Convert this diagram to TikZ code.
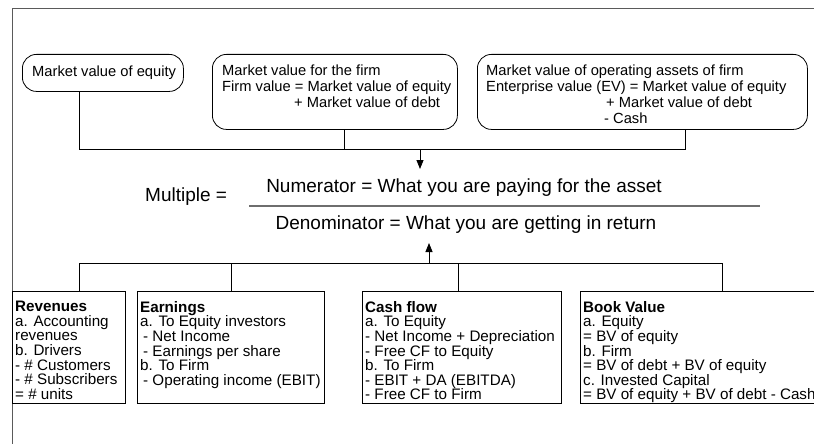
\documentclass[tikz,border=0pt]{standalone}
\usepackage{fontspec}
\setmainfont{Liberation Sans}
\usetikzlibrary{arrows.meta}
\definecolor{framegray}{HTML}{5A5A5A}
\definecolor{fracgray}{HTML}{6E6E6E}
\begin{document}
\begin{tikzpicture}[x=1pt,y=-1pt,
  topbox/.style={draw, rounded corners=14pt, line width=0.8pt, inner sep=0pt, anchor=north west},
  botbox/.style={draw, line width=0.8pt, inner sep=0pt, anchor=north west},
  toptxt/.style={inner sep=0pt, anchor=north west, align=left, font=\fontsize{14.7}{16}\selectfont},
  bottxt/.style={inner sep=0pt, anchor=north west, align=left, font=\fontsize{15.2}{14.6}\selectfont},
  bigtxt/.style={inner sep=0pt, font=\fontsize{19}{21}\selectfont},
  conn/.style={line width=0.8pt},
  arr/.style={line width=0.8pt, -{Triangle[length=9pt,width=7pt]}}]
\useasboundingbox (0,0) rectangle (814,444);
% frame
\coordinate (fTL) at (12,9);
\coordinate (fTR) at (816,9);
\coordinate (fBL) at (12,446);
\draw[framegray, line width=1pt] (fTR) -- (fTL) -- (fBL);

% top boxes
\node[topbox, minimum width=161pt, minimum height=37pt] (b1) at (22,54) {};
\node[toptxt, anchor=west] (t1) at (32,72.5) {Market value of equity};
\node[topbox, minimum width=245pt, minimum height=75pt] (b2) at (212,54) {};
\node[toptxt] (t2) at (222,64.5) {Market value for the firm\\Firm value = Market value of equity\\\hspace*{72pt}+ Market value of debt};
\node[topbox, minimum width=330pt, minimum height=75pt] (b3) at (477,54) {};
\node[toptxt] (t3) at (486,64.5) {Market value of operating assets of firm\\Enterprise value (EV) = Market value of equity\\\hspace*{120pt}+ Market value of debt\\\hspace*{118pt}- Cash};

% top connectors
\coordinate (j1) at (79,149);
\coordinate (j2) at (344,149);
\coordinate (j3) at (685,149);
\coordinate (jt) at (420,149);
\draw[conn] (j1 |- b1.south) -- (j1) -- (j3) -- (j3 |- b3.south);
\draw[conn] (j2 |- b2.south) -- (j2);

% fraction
\node[bigtxt, anchor=west] (mult) at (145,197) {Multiple =};
\node[bigtxt] (num) at (464,188) {Numerator = What you are paying for the asset};
\node[bigtxt] (den) at (466,225) {Denominator = What you are getting in return};
\coordinate (fl1) at (249,206);
\coordinate (fl2) at (760,206);
\draw[fracgray, line width=1.8pt] (fl1) -- (fl2);
\coordinate (at) at (420,169);
\draw[arr] (jt) -- (at);

% bottom connectors
\coordinate (k1) at (79,263);
\coordinate (k2) at (231,263);
\coordinate (k3) at (458,263);
\coordinate (k4) at (722,263);
\coordinate (kb) at (429,263);
\coordinate (ab) at (429,243);
\draw[arr] (kb) -- (ab);

% bottom boxes
\node[botbox, minimum width=113pt, minimum height=112pt] (r) at (12,291) {};
\node[bottxt] (rt) at (15,301) {\textbf{Revenues}\\a. Accounting\\revenues\\b. Drivers\\- \# Customers\\- \# Subscribers\\= \# units};
\node[botbox, minimum width=187pt, minimum height=112pt] (e) at (137,291) {};
\node[bottxt] (et) at (140,301) {\textbf{Earnings}\\a. To Equity investors\\\hspace*{3pt}- Net Income\\\hspace*{3pt}- Earnings per share\\b. To Firm\\\hspace*{3pt}- Operating income (EBIT)};
\node[botbox, minimum width=199pt, minimum height=112pt] (c) at (362,291) {};
\node[bottxt] (ct) at (365,301) {\textbf{Cash flow}\\a. To Equity\\- Net Income + Depreciation\\- Free CF to Equity\\b. To Firm\\- EBIT + DA (EBITDA)\\- Free CF to Firm};
\node[botbox, minimum width=240pt, minimum height=112pt] (bv) at (580,291) {};
\node[bottxt] (bvt) at (583,301) {\textbf{Book Value}\\a. Equity\\= BV of equity\\b. Firm\\= BV of debt + BV of equity\\c. Invested Capital\\= BV of equity + BV of debt - Cash};

\draw[conn] (r.north -| k1) -- (k1) -- (k4) -- (bv.north -| k4);
\draw[conn] (e.north -| k2) -- (k2);
\draw[conn] (c.north -| k3) -- (k3);
\end{tikzpicture}
\end{document}
